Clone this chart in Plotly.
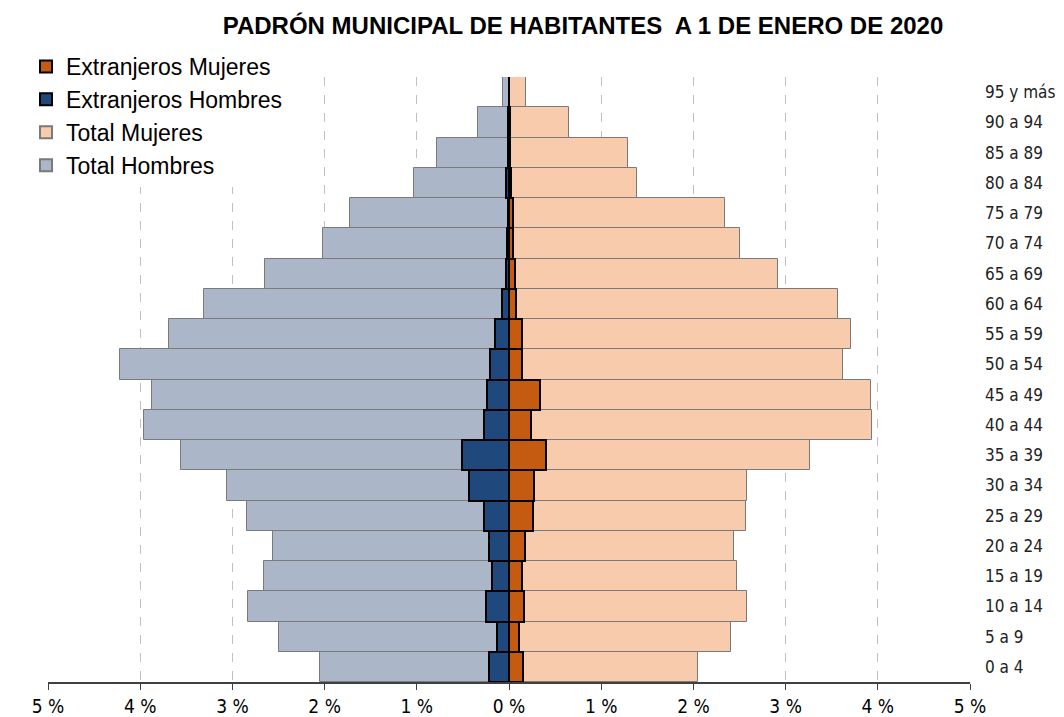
import plotly.graph_objects as go

edades = ["0 a 4", "5 a 9", "10 a 14", "15 a 19", "20 a 24", "25 a 29", "30 a 34",
          "35 a 39", "40 a 44", "45 a 49", "50 a 54", "55 a 59", "60 a 64", "65 a 69",
          "70 a 74", "75 a 79", "80 a 84", "85 a 89", "90 a 94", "95 y más"]

total_hombres = [2.05, 2.49, 2.83, 2.66, 2.56, 2.84, 3.06, 3.56, 3.96, 3.87, 4.22, 3.69,
                 3.31, 2.65, 2.02, 1.72, 1.03, 0.78, 0.34, 0.07]
total_mujeres = [2.05, 2.41, 2.58, 2.47, 2.44, 2.57, 2.58, 3.26, 3.94, 3.93, 3.62, 3.71,
                 3.57, 2.92, 2.51, 2.34, 1.39, 1.29, 0.65, 0.18]
ext_hombres = [0.22, 0.13, 0.245, 0.18, 0.22, 0.27, 0.43, 0.51, 0.27, 0.24, 0.21, 0.155,
               0.08, 0.03, 0.02, 0.015, 0.03, 0.01, 0.01, 0.005]
ext_mujeres = [0.15, 0.11, 0.16, 0.145, 0.17, 0.26, 0.27, 0.40, 0.24, 0.34, 0.145, 0.145,
               0.08, 0.065, 0.045, 0.045, 0.02, 0.01, 0.01, 0.005]

x_ticks = [-5, -4, -3, -2, -1, 0, 1, 2, 3, 4, 5]
x_ticktext = ["5 %", "4 %", "3 %", "2 %", "1 %", "0 %", "1 %", "2 %", "3 %", "4 %", "5 %"]

font_narrow = "Liberation Sans Narrow, Arial Narrow, DejaVu Sans Condensed, sans-serif"

# page body has an 8px default margin: figure is sized/offset accordingly
W, H = 1056, 709
OFF = 8
plot_l, plot_r, plot_t, plot_b = 48 - OFF, 970 - OFF, 77 - OFF, 682 - OFF
plot_w, plot_h = plot_r - plot_l, plot_b - plot_t

fig = go.Figure()
fig.add_trace(go.Bar(y=edades, x=[-v for v in total_hombres], orientation="h", name="Total Hombres",
                     marker=dict(color="#abb6c9", line=dict(color="#7a7a7a", width=1)), width=1))
fig.add_trace(go.Bar(y=edades, x=total_mujeres, orientation="h", name="Total Mujeres",
                     marker=dict(color="#f8cbad", line=dict(color="#7a7a7a", width=1)), width=1))
fig.add_trace(go.Bar(y=edades, x=[-v for v in ext_hombres], orientation="h", name="Extranjeros Hombres",
                     marker=dict(color="#1f497d", line=dict(color="#000000", width=2)), width=1))
fig.add_trace(go.Bar(y=edades, x=ext_mujeres, orientation="h", name="Extranjeros Mujeres",
                     marker=dict(color="#c55a11", line=dict(color="#000000", width=2)), width=1))

fig.add_shape(type="line", xref="x", yref="paper", x0=0, x1=0, y0=0, y1=1,
              line=dict(color="#000000", width=1.5), layer="above")

fig.update_layout(
    width=W, height=H,
    barmode="overlay",
    bargap=0,
    plot_bgcolor="white", paper_bgcolor="white",
    margin=dict(l=plot_l, r=W - plot_r, t=plot_t, b=H - plot_b, autoexpand=False),
    title=dict(text="<b>PADRÓN MUNICIPAL DE HABITANTES  A 1 DE ENERO DE 2020</b>",
               x=(583 - OFF) / W, xanchor="center", y=1 - (26 - OFF) / H, yanchor="middle",
               font=dict(family="Liberation Sans, Arial, sans-serif", size=24, color="#000000")),
    legend=dict(x=(18 - 40) / plot_w, y=(plot_b - (45 - OFF)) / plot_h, xanchor="left", yanchor="top",
                bgcolor="white", traceorder="reversed",
                font=dict(family="Liberation Sans, Arial, sans-serif", size=23, color="#000000"),
                itemsizing="constant", tracegroupgap=0, itemwidth=30),
    showlegend=True,
    xaxis=dict(range=[-5, 5], tickvals=x_ticks, ticktext=x_ticktext, automargin=False,
               showgrid=True, gridcolor="#c0c0c0", griddash="dash", gridwidth=1,
               zeroline=False, showline=True, linecolor="#404040", linewidth=1.5,
               ticks="outside", ticklen=6, tickcolor="#404040",
               tickfont=dict(family=font_narrow, size=19, color="#000000")),
    yaxis=dict(side="right", categoryorder="array", categoryarray=edades, automargin=False,
               showgrid=False, zeroline=False, showline=False, ticks="",
               ticklabelstandoff=14,
               tickfont=dict(family="DejaVu Sans Condensed, sans-serif", size=17, color="#222222")),
)

fig.write_html("out.html")
